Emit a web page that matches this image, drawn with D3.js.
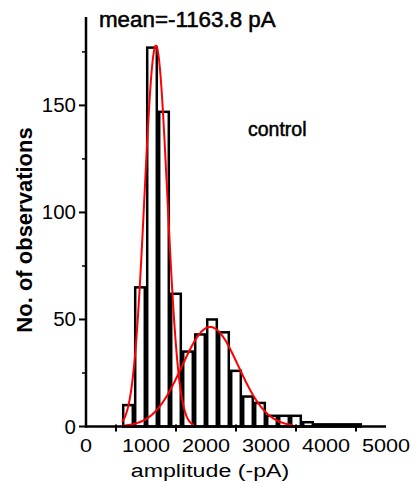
<!DOCTYPE html>
<meta charset="utf-8">
<head>
<script src="https://d3js.org/d3.v7.min.js"></script>
<style>
  body { margin: 0; background: #fff; }
  text { font-family: "Liberation Sans", Arial, sans-serif; fill: #000; }
</style>
</head>
<body>
<svg id="chart" width="412" height="483"></svg>
<script>
// histogram bins (pA, 200 pA wide) and counts
var binStart = [600, 800, 1000, 1200, 1400, 1600, 1800, 2000, 2200, 2400, 2600, 2800, 3000, 3200, 3400, 3600, 3800, 4000, 4200, 4400];
var counts   = [10, 65, 177, 147, 62, 35, 43, 50, 44, 26, 14, 11, 5, 5, 5, 2, 1, 1, 1, 1];
var binWidth = 200;

// two gaussian fits: [mean, sigma, peak, from, to]
var fit1 = [1165, 190, 178, 600, 1800];
var fit2 = [2070, 470, 46.5, 600, 3450];

var xTickLabels = [0, 1000, 2000, 3000, 4000, 5000];
var xTicks = [500, 1500, 2500, 3500, 4500];
var yTickLabels = [0, 50, 100, 150];
var yMinor = [25, 75, 125, 175];

var svg = d3.select("#chart");

var x = d3.scaleLinear().domain([0, 5000]).range([86, 386]);
var y = d3.scaleLinear().domain([0, 192]).range([426.5, 15.5]);

// bars
svg.append("g")
  .selectAll("rect")
  .data(binStart)
  .enter()
  .append("rect")
    .attr("x", function(d) { return x(d) + 1.2; })
    .attr("width", function(d) { return x(d + binWidth) - x(d) - 2.4; })
    .attr("y", function(d, i) { return y(counts[i]); })
    .attr("height", function(d, i) { return y(0) - y(counts[i]); })
    .attr("fill", "#fff")
    .attr("stroke", "#000")
    .attr("stroke-width", 2.5);

// fitted curves
function gauss(f) {
  var pts = [];
  for (var v = f[3]; v <= f[4]; v += 10) {
    pts.push([v, f[2] * Math.exp(-(v - f[0]) * (v - f[0]) / (2 * f[1] * f[1]))]);
  }
  return pts;
}
var line = d3.line()
  .x(function(d) { return x(d[0]); })
  .y(function(d) { return y(d[1]); })
  .curve(d3.curveBasis);

[fit1, fit2].forEach(function(f) {
  svg.append("path")
    .attr("d", line(gauss(f)))
    .attr("fill", "none")
    .attr("stroke", "#f00")
    .attr("stroke-width", 2);
});

// axes
svg.append("line")
  .attr("x1", x(0)).attr("x2", x(0))
  .attr("y1", y(0) + 1).attr("y2", 17)
  .attr("stroke", "#000").attr("stroke-width", 2.5);
svg.append("line")
  .attr("x1", x(0) - 1).attr("x2", x(5000))
  .attr("y1", y(0)).attr("y2", y(0))
  .attr("stroke", "#000").attr("stroke-width", 2.5);

svg.selectAll(".ymaj")
  .data(yTickLabels).enter().append("line")
  .attr("x1", x(0) - 7).attr("x2", x(0))
  .attr("y1", function(d) { return y(d); })
  .attr("y2", function(d) { return y(d); })
  .attr("stroke", "#000").attr("stroke-width", 2);
svg.selectAll(".ymin")
  .data(yMinor).enter().append("line")
  .attr("x1", x(0) - 4).attr("x2", x(0))
  .attr("y1", function(d) { return y(d); })
  .attr("y2", function(d) { return y(d); })
  .attr("stroke", "#000").attr("stroke-width", 1.5);
svg.selectAll(".xmaj")
  .data(xTicks).enter().append("line")
  .attr("x1", function(d) { return x(d); })
  .attr("x2", function(d) { return x(d); })
  .attr("y1", y(0) - 2).attr("y2", y(0) + 5)
  .attr("stroke", "#000").attr("stroke-width", 2);

// tick labels (the picture's text is a bit stretched sideways)
svg.selectAll(".ylab")
  .data(yTickLabels).enter().append("text")
  .attr("text-anchor", "end")
  .attr("font-size", 19.5)
  .attr("transform", function(d) { return "translate(76," + (y(d) + 7) + ") scale(1.05,1)"; })
  .text(function(d) { return d; });

svg.selectAll(".xlab")
  .data(xTickLabels).enter().append("text")
  .attr("text-anchor", "middle")
  .attr("font-size", 19)
  .attr("transform", function(d) { return "translate(" + x(d) + ",452) scale(1.14,1)"; })
  .text(function(d) { return d; });

svg.append("text")
  .attr("text-anchor", "middle")
  .attr("font-size", 19)
  .attr("transform", "translate(210,477) scale(1.22,1)")
  .text("amplitude (-pA)");

svg.append("text")
  .attr("text-anchor", "middle")
  .attr("font-size", 22)
  .attr("font-weight", "bold")
  .attr("transform", "translate(32,230) rotate(-90)")
  .text("No. of observations");

svg.append("text")
  .attr("font-size", 21.5)
  .attr("stroke", "#000").attr("stroke-width", 0.5)
  .attr("transform", "translate(99,27) scale(1.04,1)")
  .text("mean=-1163.8 pA");

svg.append("text")
  .attr("x", 248).attr("y", 136)
  .attr("font-size", 19.5)
  .attr("stroke", "#000").attr("stroke-width", 0.5)
  .text("control");
</script>
</body>
